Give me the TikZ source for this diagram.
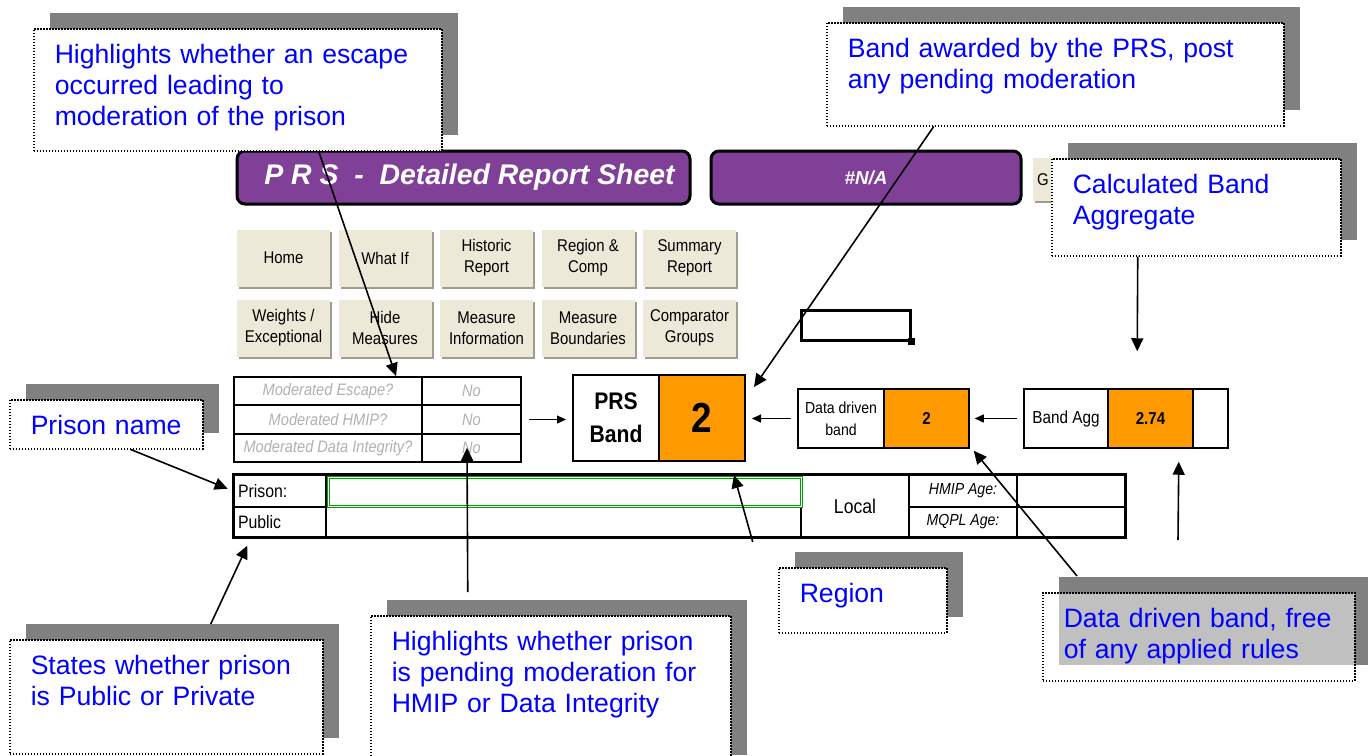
\documentclass[tikz,border=0pt]{standalone}
\usepackage{fontspec}
\setmainfont{Liberation Sans}
\newfontfamily\sheetfont[FakeStretch=0.88]{Liberation Sans}
\usetikzlibrary{arrows.meta,shadows}

\definecolor{sheetpurple}{RGB}{128,64,152}
\definecolor{sheetorange}{RGB}{255,153,0}
\definecolor{sheetgreen}{RGB}{0,160,0}
\definecolor{btnface}{RGB}{236,233,216}
\definecolor{btnshade}{RGB}{160,157,143}
\definecolor{notegray}{RGB}{128,128,128}
\definecolor{notefill}{RGB}{192,192,192}
\definecolor{noteblue}{RGB}{0,0,255}
\definecolor{modgray}{RGB}{176,176,176}

\tikzset{%
  every note/.style={
    draw,
    fill=white,
    line width=0.75pt,
    dash pattern=on 0.75pt off 0.75pt,
    general shadow={fill=notegray, shadow xshift=8pt, shadow yshift=8pt},
    anchor=north west,
    inner xsep=10.5pt,
    inner ysep=0pt,
    align=left,
    text=noteblue,
    text height=17.5pt,
    font=\fontsize{13.3}{15.5}\selectfont
  },
  note grey/.style={
    path picture={\fill [notefill] ([xshift=8pt]path picture bounding box.north west)
      rectangle ([yshift=8pt]path picture bounding box.south east);}
  },
  every cell/.style={
    draw,
    line width=0.75pt,
    inner sep=0pt,
    font=\sheetfont\fontsize{8.3}{10.8}\selectfont
  },
  mod text/.style={
    line width=1pt,
    minimum height=14.15pt,
    text=modgray,
    font=\sheetfont\itshape\fontsize{8.3}{10}\selectfont
  },
  every button/.style={
    fill=btnface,
    general shadow={fill=btnshade, shadow xshift=1pt, shadow yshift=-1pt},
    minimum width=46.5pt,
    minimum height=28.5pt,
    inner sep=0pt,
    align=center,
    font=\sheetfont\fontsize{8.5}{10.5}\selectfont
  },
  title bar/.style={
    draw,
    fill=sheetpurple,
    line width=1.5pt,
    rounded corners=4pt,
    minimum height=26.5pt,
    text=white,
    font=\bfseries\itshape\fontsize{14.2}{16}\selectfont
  },
  pointer/.style={->, line width=0.8pt},
  sheet pointer/.style={->, >={Triangle[length=4.5pt,width=4pt]}, line width=0.6pt},
}

\begin{document}
\begin{tikzpicture}[x=0.5pt, y=-0.5pt, >={Triangle[length=6.5pt,width=6pt]}]

\useasboundingbox (0,0) rectangle (1368,755);
\clip (0,0) rectangle (1368,755);

% header bars
\node [title bar, minimum width=226.5pt] (title) at (463.5,177.5) {\hspace*{6pt}P\ R\ S\ \ -\ \ Detailed Report Sheet};
\node [title bar, minimum width=155pt, font=\bfseries\itshape\fontsize{9.4}{11}\selectfont]
  (na-box) at (866,177.5) {\#N/A};
\node [every button, minimum width=43.5pt, minimum height=21.5pt, text width=39.5pt,
  inner xsep=2pt, align=left] (graph-button) at (1076.5,179.5) {G};

% buttons
\foreach \l [count=\i] in {Home, What If, {Historic\\Report}, {Region \&\\Comp}, {Summary\\Report}}
  \node [every button] (button-1-\i) at ({182+101.5*\i},258) {\l};

\foreach \l [count=\i] in {{Weights /\\Exceptional}, {Hide\\Measures}, {Measure\\Information},
    {Measure\\Boundaries}, {Comparator\\Groups}}
  \node [every button] (button-2-\i) at ({182+101.5*\i},328) {\l};

% selected cell
\node [draw, line width=1.5pt, minimum width=54.5pt, minimum height=15pt, inner sep=0pt]
  (cursor) at (855.5,325) {};
\fill ([xshift=-1.75pt,yshift=-1.75pt]cursor.south east) rectangle ([xshift=1.75pt,yshift=1.75pt]cursor.south east);

% moderation table
\foreach \l [count=\i] in {Moderated Escape?, Moderated HMIP?, Moderated Data Integrity?} {
  \node [every cell, mod text, minimum width=94pt] (mod-\i) at (328,{362.9+28.3*\i}) {\l};
  \node [every cell, mod text, minimum width=49.5pt] (mod-val-\i) at (471.5,{362.9+28.3*\i}) {No};
}

% band boxes
\node [every cell, line width=1pt, minimum width=43pt, minimum height=43pt, align=center,
  font=\sheetfont\bfseries\fontsize{12}{16.5}\selectfont] (prs-label) at (616,418) {PRS\\Band};
\node [every cell, line width=1pt, fill=sheetorange, minimum width=43pt, minimum height=43pt,
  font=\sheetfont\bfseries\fontsize{21}{21}\selectfont] (prs-value) at (702,418) {2};

\node [every cell, minimum width=43pt, minimum height=29.5pt, align=center,
  font=\sheetfont\fontsize{8}{10.8}\selectfont] (dd-label) at (841,418.5) {Data driven\\band};
\node [every cell, fill=sheetorange, minimum width=42.5pt, minimum height=29.5pt,
  font=\sheetfont\bfseries\fontsize{8.6}{10}\selectfont] (dd-value) at (926.5,418.5) {2};

\node [every cell, minimum width=42pt, minimum height=29.5pt,
  font=\sheetfont\fontsize{8.7}{10}\selectfont] (agg-label) at (1066,418.5) {Band Agg};
\node [every cell, fill=sheetorange, minimum width=42.5pt, minimum height=29.5pt,
  font=\sheetfont\bfseries\fontsize{8.6}{10}\selectfont] (agg-value) at (1150.5,418.5) {2.74};
\node [every cell, minimum width=17.5pt, minimum height=29.5pt] (agg-blank) at (1210.5,418.5) {};

\draw [sheet pointer, shorten <=3.5pt, shorten >=3pt] (mod-val-2.east) -- (mod-val-2.east -| prs-label.west);
\draw [sheet pointer, shorten <=3pt, shorten >=3pt] (dd-label.west) -- (dd-label.west -| prs-value.east);
\draw [sheet pointer, shorten <=3pt, shorten >=2.5pt] (agg-label.west) -- (agg-label.west -| dd-value.east);

% prison table
\node [every cell, minimum height=16pt, text width=42pt, inner xsep=2pt, align=left,
  font=\sheetfont\fontsize{9}{10}\selectfont] (prison-label) at (280,491) {Prison:};
\node [every cell, minimum height=15pt, text width=42pt, inner xsep=2pt, align=left,
  font=\sheetfont\fontsize{9}{10}\selectfont] (public-label) at (280,522) {Public};
\node [every cell, minimum width=237.5pt, minimum height=15pt] (public-value) at (563.5,522) {};
\node [every cell, minimum width=54pt, minimum height=31pt,
  font=\sheetfont\fontsize{10}{12}\selectfont] (local) at (855,506) {Local};
\node [every cell, minimum width=54pt, minimum height=16pt,
  font=\sheetfont\itshape\fontsize{8}{10}\selectfont] (hmip-label) at (963,491) {HMIP Age:};
\node [every cell, minimum width=54pt, minimum height=15pt,
  font=\sheetfont\itshape\fontsize{8}{10}\selectfont] (mqpl-label) at (963,522) {MQPL Age:};
\node [every cell, minimum width=54pt, minimum height=16pt] (hmip-value) at (1071,491) {};
\node [every cell, minimum width=54pt, minimum height=15pt] (mqpl-value) at (1071,522) {};
\node [draw=sheetgreen, double=white, double distance=0.6pt, line width=0.5pt,
  minimum width=236.5pt, minimum height=14.5pt, inner sep=0pt] (prison-name) at (565,492) {};
\draw [line width=1.5pt] (prison-label.north west) rectangle (mqpl-value.south east);

% notes
\node [every note, text width=183pt, text depth=43.5pt] (escape-note) at (33,28)
  {Highlights whether an escape\\occurred leading to\\moderation of the prison};
\node [every note, text width=207.5pt, text depth=34pt] (award-note) at (826,22)
  {Band awarded by the PRS, post\\any pending moderation};
\node [every note, text width=123.5pt, text depth=31pt] (calc-note) at (1051,158)
  {Calculated Band\\Aggregate};
\node [every note, text width=75.5pt, text depth=7pt] (name-note) at (9,399)
  {Prison name};
\node [every note, text width=135.5pt, text depth=39.5pt] (states-note) at (9,639)
  {States whether prison\\is Public or Private};
\node [every note, text width=159pt, text depth=60pt] (pending-note) at (370,615)
  {Highlights whether prison\\is pending moderation for\\HMIP or Data Integrity};
\node [every note, text width=63pt, text depth=15pt] (region-note) at (778,567)
  {Region};
\node [every note, note grey, text width=135pt, text depth=26.5pt] (data-note) at (1042,592)
  {Data driven band, free\\of any applied rules};

% connectors
\draw [pointer] ([xshift=40.5pt]escape-note.south) -- ([xshift=-13.5pt]mod-1.north east);
\draw [pointer] ([xshift=-60.75pt]award-note.south) -- ([xshift=4pt,yshift=-6.5pt]prs-value.north east);
\draw [pointer, shorten >=18.5pt] ([xshift=-29.25pt]calc-note.south) -- ([xshift=-6.75pt]agg-value.north);
\draw [pointer, shorten >=3pt] ([xshift=12.25pt]name-note.south) -- (prison-label.west);
\draw [pointer] ([xshift=22.25pt,yshift=7.5pt]states-note.north) -- ([xshift=7pt,yshift=-4pt]public-label.south west);
\draw [pointer] ([xshift=-41.5pt,yshift=11.5pt]pending-note.north) -- ([xshift=-2.25pt]mod-val-3.center);
\draw [pointer] ([xshift=-55pt,yshift=12.5pt]region-note.north) -- ([xshift=16pt,yshift=-6.5pt]prs-value.south);
\draw [pointer] ([xshift=17.5pt,yshift=8pt]data-note.north west) -- ([xshift=2pt,yshift=-1pt]dd-value.south east);
\coordinate (agg-source) at (1178,540);
\draw [pointer] (agg-source) -- ([xshift=-7.5pt,yshift=-6.5pt]agg-value.south east);

\end{tikzpicture}
\end{document}
